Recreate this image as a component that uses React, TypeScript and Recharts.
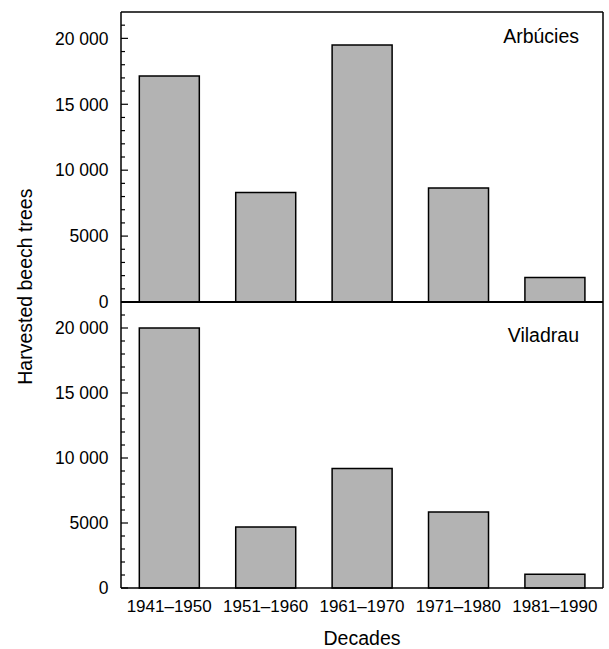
import { BarChart, Bar, XAxis, YAxis, Label } from 'recharts'

const decades = ['1941–1950', '1951–1960', '1961–1970', '1971–1980', '1981–1990']
const arbucies = [17150, 8300, 19500, 8650, 1850]
const viladrau = [20000, 4700, 9200, 5850, 1050]

const yTicks = [
  0, 1000, 2000, 3000, 4000, 5000, 6000, 7000, 8000, 9000, 10000,
  11000, 12000, 13000, 14000, 15000, 16000, 17000, 18000, 19000, 20000, 21000,
]
const majorTicks = [0, 5000, 10000, 15000, 20000]

const FONT = '"Liberation Sans", Arial, Helvetica, sans-serif'
const TICK_FONT = 17
const TITLE_FONT = 19.5

const fmt = (v: number) => {
  const s = String(v)
  return s.length > 4 ? s.slice(0, s.length - 3) + ' ' + s.slice(-3) : s
}

function YTick(props: any) {
  const { x, y, payload } = props
  const major = majorTicks.includes(payload.value)
  return (
    <g>
      <line x1={x} x2={x + (major ? 7 : 4)} y1={y} y2={y} stroke="#000" strokeWidth={1.2} />
      {major && (
        <text
          x={x - 12.5}
          y={y}
          dy="0.36em"
          textAnchor="end"
          fontSize={17.5}
          fontFamily={FONT}
          fill="#000"
        >
          {fmt(payload.value)}
        </text>
      )}
    </g>
  )
}

interface PanelProps {
  values: number[]
  name: string
  nameDy: number
  top: boolean
}

function Panel({ values, name, nameDy, top }: PanelProps) {
  const data = decades.map((d, i) => ({ decade: d, value: values[i] }))
  return (
    <BarChart
      width={609}
      height={top ? 310 : 347}
      data={data}
      margin={top ? { top: 11, right: 5, bottom: 7, left: 0 } : { top: 0, right: 5, bottom: 0, left: 0 }}
      barCategoryGap="19%"
    >
      <XAxis
        dataKey="decade"
        height={top ? 1 : 61}
        tick={top ? false : { fontSize: TICK_FONT, fontFamily: FONT, fill: '#000' }}
        tickLine={false}
        tickSize={0}
        tickMargin={12}
        interval={0}
        stroke="#000"
        axisLine={{ stroke: '#000', strokeWidth: top ? 2 : 1.5 }}
      >
        {!top && (
          <Label
            value="Decades"
            position="insideBottom"
            offset={4}
            fontSize={TITLE_FONT}
            fontFamily={FONT}
            fill="#000"
          />
        )}
      </XAxis>
      {top && (
        <XAxis
          xAxisId="frame"
          dataKey="decade"
          orientation="top"
          height={1}
          tick={false}
          tickLine={false}
          stroke="#000"
          axisLine={{ stroke: '#000', strokeWidth: 1.5 }}
        />
      )}
      <YAxis
        width={121}
        domain={[0, 22000]}
        ticks={yTicks}
        interval={0}
        tick={<YTick />}
        tickLine={false}
        tickSize={0}
        tickMargin={0}
        stroke="#000"
        axisLine={{ stroke: '#000', strokeWidth: 1.5 }}
      >
        {top && (
          <Label
            content={() => (
              <text
                x={32}
                y={286.7}
                transform="rotate(-90 32 286.7)"
                textAnchor="middle"
                fontSize={TITLE_FONT}
                fontFamily={FONT}
                fill="#000"
              >
                Harvested beech trees
              </text>
            )}
          />
        )}
      </YAxis>
      <YAxis
        yAxisId="frame"
        orientation="right"
        width={1}
        domain={[0, 22000]}
        tick={false}
        tickLine={false}
        stroke="#000"
        axisLine={{ stroke: '#000', strokeWidth: 1.5 }}
      >
        <Label
          content={(p: any) => (
            <text
              x={p.viewBox.x - 24}
              y={p.viewBox.y + nameDy}
              textAnchor="end"
              fontSize={TITLE_FONT}
              fontFamily={FONT}
              fill="#000"
            >
              {name}
            </text>
          )}
        />
      </YAxis>
      <Bar dataKey="value" fill="#b3b3b3" stroke="#000" strokeWidth={1.5} isAnimationActive={false} />
    </BarChart>
  )
}

export default function App() {
  return (
    <div style={{ position: 'absolute', left: 0, top: 0, width: 609, height: 649, background: '#fff' }}>
      <style>{'.recharts-surface{overflow:visible}'}</style>
      <div style={{ position: 'absolute', left: 0, top: 302 }}>
        <Panel values={viladrau} name="Viladrau" nameDy={39.7} top={false} />
      </div>
      <div style={{ position: 'absolute', left: 0, top: 0 }}>
        <Panel values={arbucies} name="Arbúcies" nameDy={31} top={true} />
      </div>
    </div>
  )
}
